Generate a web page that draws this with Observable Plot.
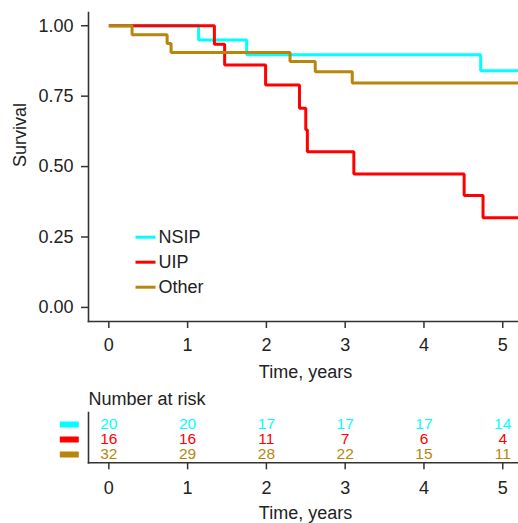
<!DOCTYPE html>
<html>
<head>
<meta charset="utf-8">
<script src="https://cdn.jsdelivr.net/npm/d3@7"></script>
<script src="https://cdn.jsdelivr.net/npm/@observablehq/plot@0.6"></script>
<style>
  html, body { margin: 0; padding: 0; background: #fff; }
  #chart { width: 518px; }
  #chart svg { display: block; }
</style>
</head>
<body>
<div id="chart"></div>
<script>
// ---- Data ----
const seriesNames = ["NSIP", "UIP", "Other"];
const seriesColors = ["#00FFFF", "#FF0000", "#B8860B"];

// Kaplan-Meier steps (time in years, survival)
const nsipTime = [0, 1.14, 1.75, 4.72, 5.2];
const nsipSurv = [1.0, 0.949, 0.897, 0.84, 0.84];
const uipTime  = [0, 1.34, 1.47, 1.99, 2.42, 2.50, 2.52, 3.11, 4.51, 4.75, 5.2];
const uipSurv  = [1.0, 0.934, 0.861, 0.79, 0.707, 0.631, 0.553, 0.474, 0.397, 0.318, 0.318];
const otherTime = [0, 0.295, 0.74, 0.79, 2.30, 2.62, 3.09, 5.2];
const otherSurv = [1.0, 0.968, 0.937, 0.905, 0.873, 0.837, 0.797, 0.797];

// Number at risk table
const riskTimes = [0, 1, 2, 3, 4, 5];
const riskNSIP  = [20, 20, 17, 17, 17, 14];
const riskUIP   = [16, 16, 11, 7, 6, 4];
const riskOther = [32, 29, 28, 22, 15, 11];

const yTicks = [0, 0.25, 0.5, 0.75, 1];
const xTicks = [0, 1, 2, 3, 4, 5];

// ---- Build tables ----
const curves = [
  {name: "NSIP", t: nsipTime, s: nsipSurv},
  {name: "UIP", t: uipTime, s: uipSurv},
  {name: "Other", t: otherTime, s: otherSurv}
].flatMap(c => c.t.map((t, i) => ({series: c.name, time: t, surv: c.s[i]})));

const riskRows = [
  {name: "NSIP", v: riskNSIP},
  {name: "UIP", v: riskUIP},
  {name: "Other", v: riskOther}
].flatMap(r => riskTimes.map((t, i) => ({series: r.name, time: t, n: r.v[i]})));

const colorOf = Object.fromEntries(seriesNames.map((n, i) => [n, seriesColors[i]]));
const font = "'Liberation Sans', Arial, Helvetica, sans-serif";
const xDomain = [-0.258, 5.2];
const axisColor = "#333";

function lineSymbol(half) {
  return { draw(ctx) { ctx.moveTo(-half, 0); ctx.lineTo(half, 0); } };
}

// ---- Main survival plot ----
const main = Plot.plot({
  width: 518,
  height: 390,
  marginLeft: 88,
  marginRight: 0,
  marginTop: 12,
  marginBottom: 69,
  style: {fontFamily: font, fontSize: "18px", color: "#222", background: "#fff"},
  x: {domain: xDomain},
  y: {domain: [-0.05, 1.047]},
  marks: [
    Plot.frame({anchor: "left", stroke: axisColor, strokeWidth: 1.6}),
    Plot.frame({anchor: "bottom", stroke: axisColor, strokeWidth: 1.6}),
    Plot.axisY({ticks: yTicks, tickFormat: d3.format(".2f"), tickSize: 7, tickPadding: 8, label: null, stroke: axisColor, strokeWidth: 1.5}),
    Plot.axisX({ticks: xTicks, tickFormat: d3.format("d"), tickSize: 7, tickPadding: 10, label: null, stroke: axisColor, strokeWidth: 1.5}),
    Plot.text(["Survival"], {frameAnchor: "left", dx: -68.5, rotate: -90, text: d => d, fontSize: 18, fill: "#222", lineAnchor: "middle"}),
    Plot.text(["Time, years"], {frameAnchor: "bottom", dx: 2, dy: 51, text: d => d, fontSize: 18, fill: "#222", lineAnchor: "middle"}),
    ...seriesNames.map(name =>
      Plot.line(curves.filter(d => d.series === name), {
        x: "time", y: "surv", curve: "step-after",
        stroke: colorOf[name], strokeWidth: 3,
        strokeLinejoin: "miter", strokeLinecap: "butt", clip: true
      })
    ),
    // legend inside plot
    ...seriesNames.map((name, i) =>
      Plot.dot([name], {frameAnchor: "top-left", dx: 57, dy: 224.7 + i * 25,
        symbol: lineSymbol(10), fill: "none", stroke: colorOf[name], strokeWidth: 3})
    ),
    ...seriesNames.map((name, i) =>
      Plot.text([name], {frameAnchor: "top-left", dx: 70, dy: 224.7 + i * 25,
        text: d => d, textAnchor: "start", lineAnchor: "middle", fontSize: 18, fill: "#222"})
    )
  ]
});

// ---- Number at risk table ----
const risk = Plot.plot({
  width: 518,
  height: 133,
  marginLeft: 88,
  marginRight: 0,
  marginTop: 22,
  marginBottom: 60.7,
  style: {fontFamily: font, fontSize: "18px", color: "#222", background: "#fff"},
  x: {domain: xDomain},
  y: {type: "point", domain: seriesNames, range: [33.3, 63.7], padding: 0, axis: null},
  marks: [
    Plot.frame({anchor: "left", stroke: axisColor, strokeWidth: 1.6}),
    Plot.frame({anchor: "bottom", stroke: axisColor, strokeWidth: 1.6}),
    Plot.axisX({ticks: xTicks, tickFormat: d3.format("d"), tickSize: 7, tickPadding: 11, label: null, stroke: axisColor, strokeWidth: 1.5}),
    Plot.text(["Number at risk"], {frameAnchor: "top-left", dy: -13, text: d => d,
      textAnchor: "start", lineAnchor: "middle", fontSize: 18, fill: "#222"}),
    Plot.text(riskRows, {x: "time", y: "series", text: d => String(d.n),
      fill: d => colorOf[d.series], fontSize: 15.5, lineAnchor: "middle"}),
    Plot.dot(seriesNames, {y: d => d, frameAnchor: "left", dx: -19.2,
      symbol: lineSymbol(9.5), fill: "none", stroke: d => colorOf[d], strokeWidth: 6}),
    Plot.text(["Time, years"], {frameAnchor: "bottom", dx: 2, dy: 50, text: d => d, fontSize: 18, fill: "#222", lineAnchor: "middle"})
  ]
});

document.getElementById("chart").append(main, risk);
</script>
</body>
</html>
